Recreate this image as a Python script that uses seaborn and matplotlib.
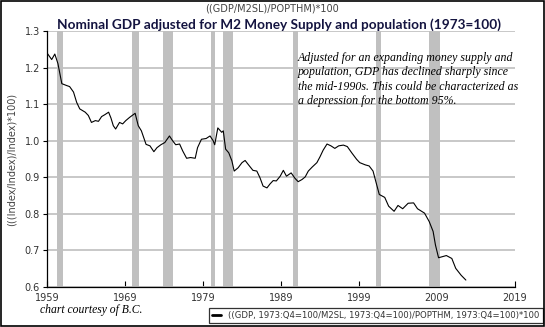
import matplotlib
matplotlib.use("Agg")
import matplotlib.pyplot as plt
import seaborn as sns
import pandas as pd
from matplotlib.patches import Rectangle

# ---- data ----
years = [1959.0, 1959.6, 1960.0, 1960.4, 1960.9, 1961.5, 1961.9, 1962.4, 1962.8, 1963.2,
         1963.9, 1964.3, 1964.7, 1965.2, 1965.6, 1966.0, 1966.4, 1966.9, 1967.2, 1967.5,
         1967.8, 1968.3, 1968.7, 1969.1, 1969.6, 1970.3, 1970.7, 1971.1, 1971.7, 1972.2,
         1972.7, 1973.1, 1973.6, 1974.1, 1974.7, 1975.1, 1975.5, 1976.0, 1976.4, 1976.9,
         1977.4, 1978.0, 1978.3, 1978.8, 1979.4, 1979.9, 1980.3, 1980.5, 1980.9, 1981.4,
         1981.6, 1981.9, 1982.3, 1982.7, 1983.0, 1983.5, 1984.0, 1984.4, 1984.8, 1985.4,
         1985.9, 1986.3, 1986.7, 1987.2, 1987.6, 1988.0, 1988.4, 1988.9, 1989.3, 1989.7,
         1990.3, 1990.8, 1991.2, 1991.7, 1992.1, 1992.5, 1993.0, 1993.6, 1994.0, 1994.4,
         1994.9, 1995.4, 1995.9, 1996.4, 1997.0, 1997.5, 1998.1, 1998.7, 1999.1, 1999.8,
         2000.3, 2000.8, 2001.2, 2001.6, 2002.3, 2002.8, 2003.5, 2004.0, 2004.6, 2005.3,
         2006.0, 2006.5, 2007.4, 2008.0, 2008.5, 2008.8, 2009.2, 2010.2, 2010.9, 2011.4,
         2012.1, 2012.7]
values = [1.240, 1.222, 1.237, 1.211, 1.156, 1.151, 1.148, 1.133, 1.105, 1.087,
          1.078, 1.069, 1.050, 1.055, 1.053, 1.066, 1.071, 1.078, 1.062, 1.041,
          1.032, 1.050, 1.046, 1.055, 1.064, 1.075, 1.041, 1.027, 0.990, 0.986,
          0.970, 0.981, 0.989, 0.995, 1.013, 1.000, 0.989, 0.991, 0.972, 0.952,
          0.954, 0.952, 0.981, 1.004, 1.006, 1.013, 1.000, 0.989, 1.035, 1.023,
          1.027, 0.977, 0.967, 0.945, 0.917, 0.926, 0.940, 0.946, 0.935, 0.919,
          0.917, 0.899, 0.876, 0.871, 0.882, 0.891, 0.890, 0.903, 0.919, 0.903,
          0.912, 0.897, 0.888, 0.894, 0.901, 0.917, 0.928, 0.940, 0.956, 0.974,
          0.991, 0.986, 0.979, 0.986, 0.988, 0.984, 0.966, 0.949, 0.940, 0.934,
          0.931, 0.917, 0.885, 0.853, 0.845, 0.821, 0.807, 0.823, 0.814, 0.829,
          0.830, 0.814, 0.802, 0.779, 0.752, 0.715, 0.680, 0.686, 0.678, 0.651,
          0.632, 0.619]

recession_starts = [1960.25, 1969.92, 1973.83, 1980.0, 1981.5, 1990.5, 2001.17, 2007.92]
recession_ends = [1961.0, 1970.83, 1975.17, 1980.5, 1982.83, 1991.17, 2001.83, 2009.42]

x_ticks = [1959, 1969, 1979, 1989, 1999, 2009, 2019]
y_ticks = [0.6, 0.7, 0.8, 0.9, 1.0, 1.1, 1.2, 1.3]

series_label = "((GDP, 1973:Q4=100/M2SL, 1973:Q4=100)/POPTHM, 1973:Q4=100)*100"
top_label = "((GDP/M2SL)/POPTHM)*100"
title = "Nominal GDP adjusted for M2 Money Supply and population (1973=100)"
y_label = "(((Index/Index)/Index)*100)"
note = ("Adjusted for an expanding money supply and\n"
        "population, GDP has declined sharply since\n"
        "the mid-1990s. This could be characterized as\n"
        "a depression for the bottom 95%.")
credit = "chart courtesy of B.C."

df = pd.DataFrame({"year": years, "value": values})

# ---- figure ----
sns.set_theme(style="white")
plt.rcParams["font.family"] = ["DejaVu Sans"]

W, H = 545, 327
fig = plt.figure(figsize=(W / 100, H / 100), dpi=100)
ax = fig.add_axes([47 / W, 1 - 287 / H, (515 - 47) / W, (287 - 31) / H])

for s, e in zip(recession_starts, recession_ends):
    ax.axvspan(s, e, color="#c0c0c0", lw=0, zorder=1)

sns.lineplot(data=df, x="year", y="value", ax=ax, color="black", lw=0.8,
             label=series_label, zorder=3)

ax.set_xlim(1959, 2019)
ax.set_ylim(0.6, 1.3)
ax.set_xticks(x_ticks)
ax.set_xticklabels([str(t) for t in x_ticks])
ax.set_yticks(y_ticks)
ax.set_yticklabels([f"{t:.1f}" for t in y_ticks])
ax.yaxis.grid(True, color="#c4c4c4", lw=1.3, zorder=0)
ax.xaxis.grid(False)
ax.set_axisbelow(True)
for sp in ["top", "right"]:
    ax.spines[sp].set_visible(False)
for sp in ["left", "bottom"]:
    ax.spines[sp].set_color("black")
    ax.spines[sp].set_linewidth(0.9)
ax.tick_params(axis="x", direction="in", length=4, width=0.8, color="black",
               labelsize=7, labelcolor="#333333", pad=4, bottom=True)
ax.tick_params(axis="y", direction="out", length=3, width=0.8, color="black",
               labelsize=7, labelcolor="#333333", pad=2, left=True)
ax.set_xlabel("")
ax.set_ylabel(y_label, fontsize=7, color="#444444", labelpad=6)

leg = ax.legend(loc="center right", bbox_to_anchor=(543 / W, 1 - 315.5 / H),
                bbox_transform=fig.transFigure, frameon=True, fancybox=False,
                edgecolor="black", fontsize=6.1, handlelength=1.0,
                handletextpad=0.9, borderpad=0.4, borderaxespad=0)
leg.get_frame().set_linewidth(0.9)
for ln in leg.get_lines():
    ln.set_linewidth(2.0)
for t in leg.get_texts():
    t.set_color("#333333")

fig.text(272 / W, 1 - 8.5 / H, top_label, ha="center", va="center",
         fontsize=7, color="#444444")
fig.text(279 / W, 1 - 24.5 / H, title, ha="center", va="center",
         fontsize=9.85, fontweight="bold", color="#141440", family="Lato")
fig.text(298 / W, 1 - 52 / H, note, ha="left", va="top", fontsize=8.6,
         style="italic", family="Liberation Serif", color="black",
         linespacing=1.25)
fig.text(40 / W, 1 - 310.5 / H, credit, ha="left", va="center", fontsize=8.4,
         style="italic", family="Liberation Serif", color="black")

fig.patches.append(Rectangle((0.001, 0.002), 0.997, 0.996, transform=fig.transFigure,
                             fill=False, edgecolor="black", lw=1.2))

fig.savefig("out.png", dpi=100)
